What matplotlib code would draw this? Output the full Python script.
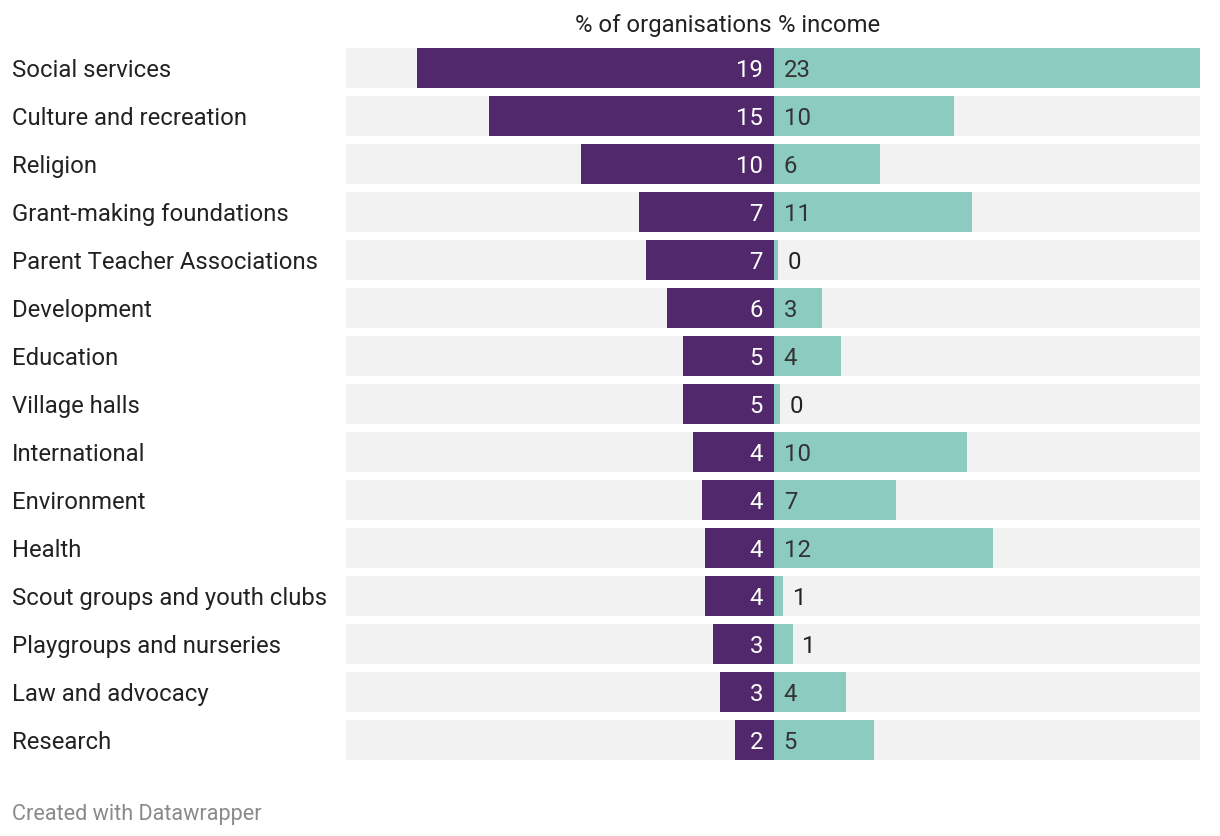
import matplotlib.pyplot as plt
import matplotlib.transforms as mtransforms

plt.rcParams['font.family'] = ['Roboto', 'DejaVu Sans']

categories = ['Social services', 'Culture and recreation', 'Religion',
              'Grant-making foundations', 'Parent Teacher Associations',
              'Development', 'Education', 'Village halls', 'International',
              'Environment', 'Health', 'Scout groups and youth clubs',
              'Playgroups and nurseries', 'Law and advocacy', 'Research']
pct_orgs = [19.3, 15.4, 10.4, 7.3, 6.9, 5.8, 4.9, 4.9, 4.4, 3.9, 3.7, 3.7, 3.3, 2.9, 2.1]
pct_income = [23.0, 9.7, 5.7, 10.7, 0.2, 2.6, 3.6, 0.3, 10.4, 6.6, 11.8, 0.5, 1.0, 3.9, 5.4]

purple = '#51286b'
teal = '#8ccbc0'
grey_bg = '#f2f2f2'
text_col = '#222222'


def fmt(v):
    return str(int(v + 0.5))  # round half up like datawrapper


W, H = 1220, 836
fig = plt.figure(figsize=(W / 100, H / 100), dpi=100)
ax = fig.add_axes([346 / W, 1 - 760 / H, (1200 - 346) / W, 712 / H])

n = len(categories)
bar_h = 40 / 48
xmin, xmax = -23.11, 23.0
ys = list(range(n))

ax.barh(ys, [xmax - xmin] * n, left=xmin, height=bar_h, color=grey_bg)
ax.barh(ys, [-v for v in pct_orgs], height=bar_h, color=purple)
ax.barh(ys, pct_income, height=bar_h, color=teal)

ax.set_xlim(xmin, xmax)
ax.set_ylim(n - 1 + bar_h / 2, -bar_h / 2)
ax.axis('off')

fs = 17.2
va = 'center_baseline'
for i, (o, inc) in enumerate(zip(pct_orgs, pct_income)):
    ax.annotate(fmt(o), xy=(0, i), xytext=(-8, 0), textcoords='offset points',
                ha='right', va=va, color='white', fontsize=fs)
    if inc > 2:
        ax.annotate(fmt(inc), xy=(0, i), xytext=(7, 0), textcoords='offset points',
                    ha='left', va=va, color='#333333', fontsize=fs)
    else:
        ax.annotate(fmt(inc), xy=(inc, i), xytext=(7, 0), textcoords='offset points',
                    ha='left', va=va, color=text_col, fontsize=fs)

# category labels on the left
trans = mtransforms.blended_transform_factory(fig.transFigure, ax.transData)
for i, c in enumerate(categories):
    ax.text(12 / W, i, c, transform=trans, ha='left', va=va,
            color=text_col, fontsize=fs, clip_on=False)

# column headers
fig.text(772 / W, 1 - 23 / H, '% of organisations', ha='right', va=va,
         color=text_col, fontsize=fs)
fig.text(778 / W, 1 - 23 / H, '% income', ha='left', va=va,
         color=text_col, fontsize=fs)

fig.text(12 / W, 1 - 812 / H, 'Created with Datawrapper', ha='left', va=va,
         color='#8a8a8a', fontsize=15.6)

fig.savefig('out.png', dpi=100, facecolor='white')
